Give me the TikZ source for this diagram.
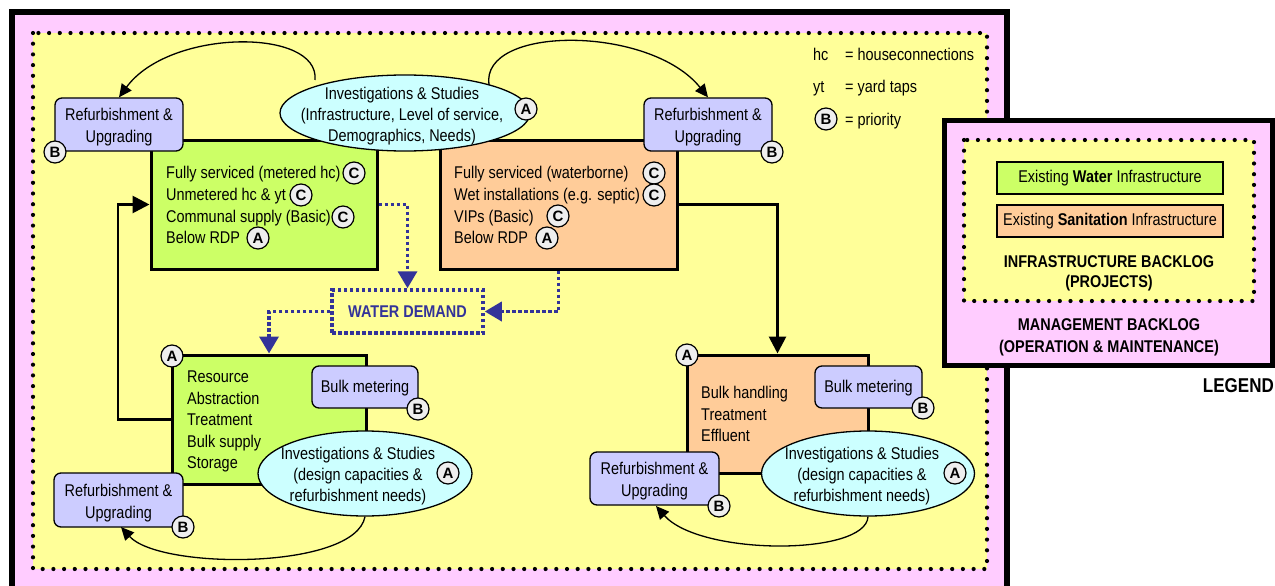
\documentclass[tikz,border=0pt]{standalone}
\usepackage{fontspec}
\setmainfont{Liberation Sans}[FakeStretch=0.85]
\newfontfamily\prioface{Liberation Sans}
\usetikzlibrary{shapes.geometric,arrows.meta,calc}
\definecolor{mgn}{HTML}{FFCCFF}
\definecolor{yel}{HTML}{FFFF99}
\definecolor{wgreen}{HTML}{CCFF66}
\definecolor{sorange}{HTML}{FFCC99}
\definecolor{lav}{HTML}{CCCCFF}
\definecolor{icy}{HTML}{CCFFFF}
\definecolor{priofill}{HTML}{EEEEEE}
\definecolor{dblue}{HTML}{333399}
\begin{document}
\begin{tikzpicture}[x=1pt,y=-1pt,font=\fontsize{17}{21}\selectfont,
  frame/.style={draw=black,line width=5.5pt,fill=mgn},
  dotframe/.style={draw=black,line width=4.2pt,dash pattern=on 0pt off 10.7pt,line cap=round},
  infra/.style={draw=black,line width=3pt,inner sep=0},
  water/.style={infra,fill=wgreen},
  sanit/.style={infra,fill=sorange},
  refbox/.style={draw=black,fill=lav,rounded corners=7pt,line width=1.3pt,inner sep=0},
  reftext/.style={align=center,inner sep=0,font=\fontsize{17}{22}\selectfont},
  study/.style={ellipse,draw=black,fill=icy,line width=1.3pt,inner sep=0},
  studytext/.style={align=center,inner sep=0,font=\fontsize{17}{21}\selectfont},
  prio/.style={circle,draw=black,fill=priofill,line width=1.2pt,minimum size=22pt,inner sep=0,
    font=\prioface\fontsize{15}{15}\selectfont\bfseries},
  ln/.style={anchor=base west,inner sep=0},
  flow/.style={draw=black,line width=2.8pt,-{Triangle[length=17pt,width=17pt]}},
  demand/.style={draw=dblue,line width=3.5pt,dash pattern=on 3.5pt off 2.5pt,
    -{Triangle[length=17pt,width=19pt,fill=dblue]}},
  loop/.style={draw=black,line width=1.3pt,-{Triangle[length=13pt,width=12pt]}},
  legbox/.style={draw=black,line width=2.5pt,minimum width=226pt,minimum height=32pt,inner sep=0}]
\useasboundingbox (0,0) rectangle (1275,586);

% outer management frame and inner project backlog area
\draw[frame] (12,12) rectangle (1007,600);
\fill[yel] (33,33) rectangle (987,569);
\draw[dotframe] (33,33) rectangle (987,569);

% infrastructure boxes
\node[water,minimum width=226pt,minimum height=129pt] (wTop) at (264,204.5) {};
\node[sanit,minimum width=237pt,minimum height=129pt] (sTop) at (558.5,204.5) {};
\node[water,minimum width=194pt,minimum height=129pt] (wBulk) at (269,419.5) {};
\node[sanit,minimum width=181pt,minimum height=118pt] (sBulk) at (777.5,414) {};

% water demand box
\node[draw=dblue,line width=3.5pt,dash pattern=on 3.5pt off 2.5pt,minimum width=151pt,
  minimum height=43pt,inner sep=0,text=dblue,font=\fontsize{17}{17}\selectfont\bfseries]
  (wd) at (407.5,311.5) {WATER DEMAND};

% flows
\coordinate (lj) at (118,204.5);
\draw[flow] (wBulk.west) -| (lj) -- (wTop.west);
\draw[flow] (sTop.east) -| (sBulk.north);
\draw[demand] (wTop.east) -| (wd.north);
\draw[demand] (sTop.south) |- (wd.east);
\draw[demand] (wd.west) -| (wBulk.north);

% refurbishment, metering and study nodes
\node[refbox,minimum width=128pt,minimum height=53pt] (rfTL) at (119,124.5) {};
\node[reftext] (rfTLt) at (119,127.5) {Refurbishment \&\\Upgrading};
\node[refbox,minimum width=128pt,minimum height=53pt] (rfTR) at (708,124.5) {};
\node[reftext] (rfTRt) at (708,127.5) {Refurbishment \&\\Upgrading};
\node[refbox,minimum width=129pt,minimum height=54pt] (rfBL) at (118.5,500) {};
\node[reftext] (rfBLt) at (118.5,503) {Refurbishment \&\\Upgrading};
\node[refbox,minimum width=129pt,minimum height=53pt] (rfBR) at (654.5,478.5) {};
\node[reftext] (rfBRt) at (654.5,481.5) {Refurbishment \&\\Upgrading};
\node[refbox,minimum width=106pt,minimum height=42pt] (bmL) at (365,387) {};
\node[reftext] (bmLt) at (365,388.5) {Bulk metering};
\node[refbox,minimum width=107pt,minimum height=42pt] (bmR) at (868.5,387) {};
\node[reftext] (bmRt) at (868.5,388.5) {Bulk metering};

\node[study,minimum width=250pt,minimum height=76pt] (stTop) at (405,113) {};
\node[studytext] (stTopT) at (402,116) {Investigations \& Studies\\(Infrastructure, Level of service,\\Demographics, Needs)};
\node[study,minimum width=214pt,minimum height=85pt] (stL) at (365,473.5) {};
\node[studytext] (stLT) at (358,476) {Investigations \& Studies\\(design capacities \&\\refurbishment needs)};
\node[study,minimum width=213pt,minimum height=85pt] (stR) at (868,473.5) {};
\node[studytext] (stRT) at (862,476) {Investigations \& Studies\\(design capacities \&\\refurbishment needs)};

% feedback loops from studies to refurbishment
\coordinate (aTL) at (315,80);
\coordinate (aTR) at (489,85);
\draw[loop] (aTL) .. controls (320,28) and (170,28) .. (rfTL.north);
\draw[loop] (aTR) .. controls (480,25) and (650,25) .. (rfTR.north);
\coordinate (rBL) at (121,527);
\draw[loop] (stL.south) .. controls (355,570) and (160,570) .. (rBL);
\coordinate (rBR) at (656,506);
\draw[loop] (stR.south) .. controls (866,556) and (700,556) .. (rBR);

% box contents
\node[ln] (w1) at (166,178.5) {Fully serviced (metered hc)};
\node[ln] (w2) at (166,200.5) {Unmetered hc \& yt};
\node[ln] (w3) at (166,222.5) {Communal supply (Basic)};
\node[ln] (w4) at (166,243.5) {Below RDP};
\node[ln] (s1) at (454,178.5) {Fully serviced (waterborne)};
\node[ln] (s2) at (454,200.5) {Wet installations (e.g. septic)};
\node[ln] (s3) at (454,222.5) {VIPs (Basic)};
\node[ln] (s4) at (454,243.5) {Below RDP};
\node[ln] (b1) at (187,382.5) {Resource};
\node[ln] (b2) at (187,404.5) {Abstraction};
\node[ln] (b3) at (187,425.5) {Treatment};
\node[ln] (b4) at (187,447.5) {Bulk supply};
\node[ln] (b5) at (187,468.5) {Storage};
\node[ln] (e1) at (701,398.5) {Bulk handling};
\node[ln] (e2) at (701,420.5) {Treatment};
\node[ln] (e3) at (701,441.5) {Effluent};

% abbreviations
\node[ln] (hcK) at (813,60.5) {hc};
\node[ln] (hcV) at (845,60.5) {= houseconnections};
\node[ln] (ytK) at (813,92.5) {yt};
\node[ln] (ytV) at (845,92.5) {= yard taps};
\node[ln] (prV) at (845,125.5) {= priority};

% priorities
\node[prio] (pTL) at (55,152) {B};
\node[prio] (pTR) at (772,152) {B};
\node[prio] (pStTop) at (526,109) {A};
\node[prio] (pW1) at (354,173) {C};
\node[prio] (pW2) at (301,195) {C};
\node[prio] (pW3) at (343,217) {C};
\node[prio] (pW4) at (258,238) {A};
\node[prio] (pS1) at (654,173) {C};
\node[prio] (pS2) at (654,195) {C};
\node[prio] (pS3) at (558,216) {C};
\node[prio] (pS4) at (547,238) {A};
\node[prio] (pWB) at (172,356) {A};
\node[prio] (pBmL) at (418,409) {B};
\node[prio] (pStL) at (448,473) {A};
\node[prio] (pBL) at (183,527) {B};
\node[prio] (pSB) at (687,355) {A};
\node[prio] (pBmR) at (923,408) {B};
\node[prio] (pStR) at (955,473) {A};
\node[prio] (pBR) at (719,506) {B};
\node[prio] (pKey) at (826,119) {B};

% legend
\draw[draw=black,line width=5pt,fill=mgn] (944,120) rectangle (1272.5,365);
\fill[yel] (964,140) rectangle (1254,301);
\draw[dotframe] (964,140) rectangle (1254,301);
\node[legbox,fill=wgreen] (lgW) at (1110,178) {Existing \textbf{Water} Infrastructure};
\node[legbox,fill=sorange] (lgS) at (1110,221) {Existing \textbf{Sanitation} Infrastructure};
\node[align=center,inner sep=0,font=\fontsize{17}{20}\selectfont\bfseries] (lgInfra) at (1109,273)
  {INFRASTRUCTURE BACKLOG\\(PROJECTS)};
\node[align=center,inner sep=0,font=\fontsize{17}{22}\selectfont\bfseries] (lgMgmt) at (1109,337)
  {MANAGEMENT BACKLOG\\(OPERATION \& MAINTENANCE)};
\node[anchor=base east,inner sep=0,font=\fontsize{20}{20}\selectfont\bfseries] (lgTitle) at (1274,392) {LEGEND};
\end{tikzpicture}
\end{document}
